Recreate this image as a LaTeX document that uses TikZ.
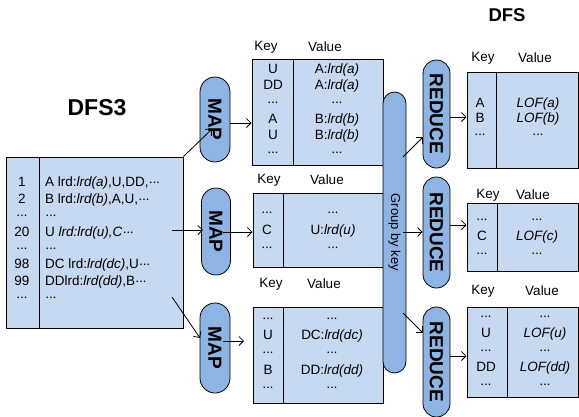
\documentclass[tikz,border=0pt]{standalone}
\usepackage{fontspec}
\setmainfont{Liberation Sans}
\usetikzlibrary{arrows.meta}
\definecolor{lb}{HTML}{C6D9F1}
\definecolor{pb}{HTML}{8EB4E3}
\newcommand\dts{\textperiodcentered\kern-0.9pt\textperiodcentered\kern-0.9pt\textperiodcentered}
\begin{document}
\begin{tikzpicture}[x=1pt,y=-1pt,
  box/.style={draw=black, fill=lb, line width=1pt, inner sep=0, rectangle},
  pill/.style={draw=black, fill=pb, line width=0.8pt, inner sep=0, rounded corners=#1, rectangle},
  pilltxt/.style={font=\fontsize{19}{19}\selectfont\bfseries},
  col/.style={font=\fontsize{13.5}{#1}\selectfont, align=center, inner sep=0},
  hdr/.style={font=\fontsize{13.5}{15}\selectfont, inner sep=0},
  ttl/.style={font=\fontsize{#1}{#1}\selectfont\bfseries, inner sep=0},
  div/.style={line width=1pt},
  arr/.style={-{Straight Barb[length=4.5pt,width=9pt]}, line width=0.8pt}]
\useasboundingbox (0,0) rectangle (579,416);

% titles
\node[ttl=23] (dfs3) at (97,108) {DFS3};
\node[ttl=18.5] (dfs) at (507,15) {DFS};

% big input box
\node[box, minimum width=177, minimum height=171] (big) at (94.5,242.5) {};
\draw[div] (big.north -| 39,0) -- (big.south -| 39,0);
\node[col=16.4] (bigk) at (22,241) {\strut1\\2\\\dts\\20\\\dts\\98\\99\\\dts\strut};
\node[col=16.4, align=left, anchor=west] (bigv) at (45,241) {\strut A lrd:\textit{lrd(a)},U,DD,\dts\\
B lrd:\textit{lrd(b)},A,U,\dts\\\dts\\U \textit{lrd:lrd(u),C}\dts\\\dts\\
DC lrd:\textit{lrd(dc)},U\dts\\DDlrd:\textit{lrd(dd)},B\dts\\\dts\strut};

% map-side tables
\node[box, minimum width=131, minimum height=106] (t1) at (317.5,112) {};
\draw[div] (t1.north -| 293,0) -- (t1.south -| 293,0);
\node[hdr] (t1hk) at (266,47) {Key};
\node[hdr] (t1hv) at (325,47) {Value};
\node[col=16.6] (t1k) at (273,111.5) {\strut U\\DD\\\dts\\A\\U\\\dts\strut};
\node[col=16.6] (t1v) at (337,111.5) {\strut A:\textit{lrd(a)}\\A:\textit{lrd(a)}\\\dts\\B:\textit{lrd(b)}\\B:\textit{lrd(b)}\\\dts\strut};

\node[box, minimum width=130, minimum height=74] (t2) at (318,230) {};
\draw[div] (t2.north -| 283,0) -- (t2.south -| 283,0);
\node[hdr] (t2hk) at (269,180) {Key};
\node[hdr] (t2hv) at (327,180) {Value};
\node[col=17.5] (t2k) at (267,230.5) {\strut\dts\\C\\\dts\strut};
\node[col=17.5] (t2v) at (333,230.5) {\strut\dts\\U:\textit{lrd(u)}\\\dts\strut};

\node[box, minimum width=130, minimum height=96] (t3) at (318,355) {};
\draw[div] (t3.north -| 283,0) -- (t3.south -| 283,0);
\node[hdr] (t3hk) at (271,284) {Key};
\node[hdr] (t3hv) at (324,284) {Value};
\node[col=17.25] (t3k) at (268,353.5) {\strut\dts\\U\\\dts\\B\\\dts\strut};
\node[col=17.25] (t3v) at (332,353.5) {\strut\dts\\DC:\textit{lrd(dc)}\\\dts\\DD:\textit{lrd(dd)}\\\dts\strut};

% reduce-side tables
\node[box, minimum width=111, minimum height=96] (r1) at (522.5,120) {};
\draw[div] (r1.north -| 496,0) -- (r1.south -| 496,0);
\node[hdr] (r1hk) at (483,58) {Key};
\node[hdr] (r1hv) at (535,58) {Value};
\node[col=15.5] (r1k) at (480,119.5) {\strut A\\B\\\dts\strut};
\node[col=15.5] (r1v) at (538,119.5) {\strut\textit{LOF(a)}\\\textit{LOF(b)}\\\dts\strut};

\node[box, minimum width=111, minimum height=68] (r2) at (522.5,237) {};
\draw[div] (r2.north -| 497,0) -- (r2.south -| 497,0);
\node[hdr] (r2hk) at (488,195) {Key};
\node[hdr] (r2hv) at (533,195) {Value};
\node[col=17] (r2k) at (482,237) {\strut\dts\\C\\\dts\strut};
\node[col=17] (r2v) at (537,237) {\strut\dts\\\textit{LOF(c)}\\\dts\strut};

\node[box, minimum width=111, minimum height=90] (r3) at (522.5,352) {};
\draw[div] (r3.north -| 507,0) -- (r3.south -| 507,0);
\node[hdr] (r3hk) at (483,291) {Key};
\node[hdr] (r3hv) at (542,291) {Value};
\node[col=17] (r3k) at (486,351) {\strut\dts\\U\\\dts\\DD\\\dts\strut};
\node[col=17] (r3v) at (545,351) {\strut\dts\\\textit{LOF(u)}\\\dts\\\textit{LOF(dd)}\\\dts\strut};

% group by key bar
\node[pill=11.5, rotate=-90, minimum width=281, minimum height=23,
      font=\fontsize{13}{13}\selectfont] (grp) at (394.5,232.5) {Group by key};

% MAP pills
\node[pill=15, pilltxt, rotate=-90, minimum width=85, minimum height=30] (map1) at (215,119.5) {MAP};
\node[pill=14.5, pilltxt, rotate=-90, minimum width=87, minimum height=29] (map2) at (216,231.5) {MAP};
\node[pill=15, pilltxt, rotate=-90, minimum width=90, minimum height=30] (map3) at (215,348) {MAP};

% REDUCE pills
\node[pill=13.5, pilltxt, rotate=-90, minimum width=108, minimum height=27] (red1) at (436.5,114) {REDUCE};
\node[pill=13.5, pilltxt, rotate=-90, minimum width=111, minimum height=27] (red2) at (436.5,232.5) {REDUCE};
\node[pill=13.5, pilltxt, rotate=-90, minimum width=110, minimum height=27] (red3) at (436.5,362) {REDUCE};

% connector end points
\coordinate (a1e) at (212,129);
\coordinate (a2s) at (172,230);
\coordinate (a2e) at (203,230);
\coordinate (a3s) at (172,297);
\coordinate (a3e) at (200,338);
\coordinate (m1s) at (230,123);
\coordinate (m2s) at (223,232);
\coordinate (m3s) at (223,341);
\coordinate (m3e) at (244,341);
\coordinate (g1s) at (403,157);
\coordinate (g1e) at (423,137);
\coordinate (g2s) at (403,232);
\coordinate (g3s) at (403,313);
\coordinate (g3e) at (423,333);

% connectors
\draw[arr] (big.north east) -- (a1e);
\draw[arr] (a2s) -- (a2e);
\draw[arr] (a3s) -- (a3e);
\draw[arr] (m1s) -- (m1s -| t1.west);
\draw[arr] (m2s) -- (m2s -| t2.west);
\draw[arr] (m3s) -- (m3e);
\draw[arr] (g1s) -- (g1e);
\draw[arr] (g2s) -- (g2s -| red2.south);
\draw[arr] (g3s) -- (g3e);
\draw[arr] (red1.north |- 0,117) -- (r1.west |- 0,117);
\draw[arr] (red2.north |- 0,225) -- (r2.west |- 0,225);
\draw[arr] (red3.north |- 0,356) -- (r3.west |- 0,356);
\end{tikzpicture}
\end{document}
